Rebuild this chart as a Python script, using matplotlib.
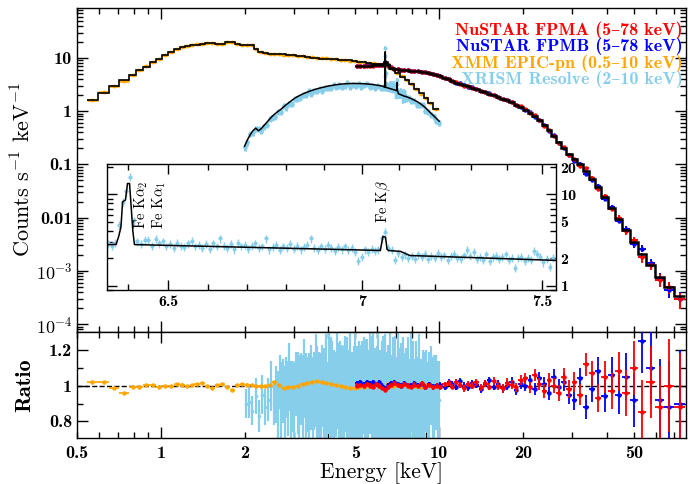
import numpy as np
import matplotlib
matplotlib.use("Agg")
import matplotlib.pyplot as plt
from matplotlib.ticker import LogLocator, FixedLocator, FuncFormatter, NullFormatter

plt.rcParams['mathtext.fontset'] = 'cm'
plt.rcParams['axes.unicode_minus'] = False
plt.rcParams['axes.linewidth'] = 1.0

BOLD = ['cmb10', 'DejaVu Serif']
REG = ['cmr10', 'DejaVu Serif']

C_A = '#ff0000'
C_B = '#0000ff'
C_XMM = '#ffa500'
C_XRISM = '#87ceeb'

# ---------------- XMM EPIC-pn (bin edges, count rate, data/model ratio) ----------------
xmm_edges = [0.542, 0.596, 0.651, 0.709, 0.770, 0.814, 0.860, 0.913, 0.959, 1.014,
             1.065, 1.116, 1.17, 1.22, 1.27, 1.32, 1.38, 1.44, 1.50, 1.56,
             1.63, 1.70, 1.77, 1.84, 1.92, 2.00, 2.08, 2.16, 2.24, 2.33,
             2.42, 2.51, 2.61, 2.71, 2.82, 2.93, 3.05, 3.17, 3.30, 3.43,
             3.57, 3.71, 3.86, 4.01, 4.17, 4.34, 4.51, 4.69, 4.88, 5.07,
             5.27, 5.48, 5.70, 5.93, 6.17, 6.42, 6.67, 6.94, 7.22, 7.51,
             7.81, 8.12, 8.45, 8.79, 9.14, 9.51, 10.0]
xmm_rate = [1.65, 2.25, 2.93, 3.74, 4.85, 5.85, 6.95, 8.27, 9.58, 11.5,
            12.7, 14.8, 16.0, 16.8, 17.5, 18.0, 18.6, 19.1, 19.0, 18.6,
            18.7, 19.6, 19.8, 18.6, 17.8, 17.6, 17.8, 15.0, 12.8, 12.2,
            12.0, 11.9, 11.8, 11.6, 11.4, 11.2, 11.0, 10.8, 10.6, 10.4,
            10.2, 10.0, 9.8, 9.6, 9.45, 9.3, 9.1, 8.9, 8.7, 8.5,
            8.3, 8.1, 7.9, 7.7, 7.6, 7.6, 6.3, 5.3, 4.5, 3.8,
            3.2, 2.65, 2.15, 1.75, 1.42, 1.12]
xmm_ratio = [1.02, 1.02, 0.985, 0.957, 0.995, 0.99, 1.005, 1.004, 0.995, 0.998,
             1.0, 1.007, 1.006, 0.998, 1.002, 1.009, 1.013, 0.999, 0.985, 1.003,
             1.008, 0.994, 0.978, 1.002, 1.01, 1.006, 1.003, 1.0, 0.996, 0.998,
             1.004, 1.02, 1.002, 0.986, 0.99, 0.994, 1.0, 1.008, 1.015, 1.02,
             1.024, 1.022, 1.015, 1.01, 1.002, 0.996, 0.99, 0.988, 0.985, 0.99,
             0.995, 1.0, 1.003, 0.998, 0.995, 1.01, 0.997, 1.002, 1.005, 0.996,
             1.006, 1.0, 0.995, 1.003, 1.0, 0.997]
xmm_frac_err = 0.006

# ---------------- NuSTAR FPMA / FPMB ----------------
nu_energy = [5.05, 5.2, 5.35, 5.5, 5.65, 5.8, 5.95, 6.1, 6.25, 6.4,
             6.55, 6.7, 6.9, 7.1, 7.3, 7.5, 7.7, 7.9, 8.15, 8.4,
             8.65, 8.9, 9.2, 9.5, 9.8, 10.1, 10.45, 10.8, 11.15, 11.5,
             11.9, 12.3, 12.7, 13.1, 13.6, 14.1, 14.6, 15.1, 15.7, 16.3,
             16.9, 17.5, 18.2, 18.9, 19.6, 20.4, 21.2, 22.0, 22.9, 23.8,
             24.8, 25.8, 26.9, 28.0, 29.3, 30.6, 32.0, 33.6, 35.3, 37.2,
             39.3, 41.6, 44.1, 46.9, 50.0, 53.5, 57.5, 62.0, 67.0, 73.0]
nu_model = [7.0, 7.05, 7.1, 7.15, 7.2, 7.25, 7.3, 7.35, 7.5, 8.4,
            7.3, 6.6, 6.2, 6.1, 6.0, 5.95, 5.9, 5.8, 5.7, 5.6,
            5.5, 5.4, 5.25, 5.05, 4.8, 4.55, 4.25, 3.95, 3.7, 3.45,
            3.25, 3.08, 2.92, 2.78, 2.6, 2.45, 2.3, 2.15, 2.0, 1.85,
            1.72, 1.6, 1.46, 1.33, 1.2, 1.07, 0.94, 0.8, 0.67, 0.55,
            0.44, 0.34, 0.26, 0.2, 0.155, 0.125, 0.1, 0.075, 0.053, 0.037,
            0.024, 0.015, 0.0093, 0.0058, 0.0035, 0.0021, 0.00128, 0.00078, 0.0005, 0.00033]
nu_frac_err = [0.012, 0.012, 0.012, 0.012, 0.012, 0.012, 0.012, 0.012, 0.012, 0.012,
               0.012, 0.012, 0.012, 0.012, 0.012, 0.012, 0.012, 0.012, 0.012, 0.012,
               0.012, 0.012, 0.012, 0.012, 0.012, 0.015, 0.015, 0.016, 0.016, 0.017,
               0.017, 0.018, 0.018, 0.019, 0.019, 0.02, 0.02, 0.021, 0.022, 0.023,
               0.024, 0.025, 0.026, 0.027, 0.028, 0.03, 0.031, 0.033, 0.035, 0.037,
               0.04, 0.042, 0.045, 0.048, 0.05, 0.055, 0.06, 0.065, 0.07, 0.08,
               0.09, 0.1, 0.11, 0.13, 0.15, 0.18, 0.2, 0.23, 0.26, 0.3]
fpma_ratio = [1.0, 1.005, 0.998, 1.01, 1.0, 0.995, 1.008, 1.0, 0.985, 0.975,
              0.99, 1.005, 1.012, 1.004, 0.996, 1.01, 1.0, 0.993, 1.006, 0.998,
              1.012, 0.995, 1.003, 0.99, 1.0, 0.99, 1.008, 1.015, 0.995, 1.02,
              1.005, 0.985, 1.01, 1.0, 1.018, 0.99, 1.012, 0.995, 1.025, 1.0,
              0.985, 1.015, 1.005, 0.99, 1.03, 1.04, 0.99, 1.06, 1.01, 0.97,
              1.03, 1.0, 0.96, 1.05, 0.98, 1.02, 0.95, 1.12, 1.07, 0.93,
              1.05, 0.97, 1.08, 0.96, 1.1, 0.85, 1.02, 0.88, 1.0, 0.88]
fpmb_ratio = [1.015, 1.02, 1.01, 1.022, 1.012, 1.018, 1.008, 1.02, 1.0, 0.985,
              1.005, 1.015, 1.02, 1.01, 1.0, 1.012, 1.005, 1.0, 1.015, 1.002,
              1.01, 0.995, 1.008, 0.997, 1.005, 1.005, 0.99, 1.02, 1.01, 0.995,
              1.025, 1.0, 0.99, 1.015, 1.005, 0.98, 1.01, 1.03, 0.995, 1.01,
              0.985, 1.0, 1.02, 0.975, 1.01, 1.0, 1.03, 0.98, 1.04, 1.01,
              0.96, 1.05, 0.99, 1.02, 0.95, 0.92, 1.04, 0.88, 0.98, 1.08,
              0.94, 1.06, 0.95, 1.05, 0.92, 1.25, 1.1, 0.92, 0.88, 0.9]

# ---------------- XRISM Resolve, broadband (display binning) ----------------
xrism_model = [0.22, 0.29, 0.36, 0.43, 0.48, 0.43, 0.47, 0.54, 0.62, 0.71,
               0.81, 0.90, 0.99, 1.08, 1.20, 1.33, 1.46, 1.60, 1.75, 1.88,
               2.00, 2.12, 2.23, 2.33, 2.44, 2.54, 2.63, 2.72, 2.80, 2.88,
               2.96, 3.03, 3.09, 3.15, 3.20, 3.24, 3.27, 3.29, 3.31, 3.32,
               3.32, 3.31, 3.30, 3.28, 3.25, 3.22, 3.18, 3.12, 3.06, 3.00,
               2.93, 2.84, 2.74, 2.65, 2.55, 2.42, 2.12, 2.00, 1.90, 1.80,
               1.72, 1.62, 1.52, 1.41, 1.29, 1.17, 1.04, 0.92, 0.82, 0.73, 0.65]
xrism_rate = [0.21, 0.26, 0.38, 0.40, 0.47, 0.46, 0.42, 0.52, 0.55, 0.72,
              0.75, 0.78, 0.97, 0.98, 1.25, 1.18, 1.39, 1.38, 1.73, 1.73,
              1.76, 2.04, 2.01, 2.40, 2.12, 2.39, 2.39, 2.67, 2.38, 2.74,
              2.72, 2.70, 3.15, 2.84, 3.07, 2.82, 3.04, 3.45, 2.91, 3.12,
              2.99, 3.21, 2.84, 3.12, 3.28, 2.87, 2.96, 2.71, 3.00, 2.73,
              2.78, 2.50, 2.82, 2.39, 2.40, 2.08, 2.06, 1.84, 1.69, 1.80,
              1.55, 1.54, 1.32, 1.31, 1.32, 1.03, 0.98, 0.84, 0.80, 0.65, 0.60]
xrism_frac_err = 0.13

# ---------------- XRISM Resolve, Fe K band (inset) ----------------
fek_model_energy = [6.350, 6.372, 6.378, 6.384, 6.388, 6.395, 6.400, 6.405, 6.409, 6.413,
                    6.417, 7.050, 7.054, 7.057, 7.064, 7.068, 7.072, 7.105, 7.130, 7.540]
fek_model_rate = [2.81, 2.83, 3.4, 4.4, 8.3, 8.7, 13.2, 13.2, 7.3, 4.0,
                  2.82, 2.43, 3.0, 3.47, 3.4, 2.5, 2.43, 2.37, 2.14, 1.89]
fek_start, fek_step = 6.352, 0.009
fek_rate = [2.9, 2.75, 2.95, 4.6, 8.3, 10.8, 15.5, 5.2, 3.05, 2.85,
            3.15, 3.2, 2.75, 3.25, 2.9, 3.05, 2.7, 2.85, 2.6, 2.95,
            2.75, 2.65, 2.9, 3.1, 2.7, 2.8, 2.6, 2.85, 2.55, 2.9,
            2.7, 3.3, 2.75, 2.6, 2.85, 2.5, 2.95, 2.7, 2.8, 2.55,
            2.75, 2.9, 2.6, 2.7, 3.3, 2.5, 2.65, 2.8, 2.45, 2.7,
            2.6, 2.85, 2.55, 2.75, 2.5, 2.65, 2.8, 3.3, 2.6, 2.45,
            2.7, 2.55, 2.8, 2.6, 2.4, 2.65, 2.5, 2.7, 2.45, 2.6,
            2.35, 1.85, 2.05, 2.5, 2.35, 2.55, 2.4, 2.5, 3.3, 3.9,
            2.6, 2.45, 1.9, 2.3, 2.05, 2.2, 2.0, 2.1, 1.95, 2.2,
            2.05, 2.25, 1.95, 2.1, 2.0, 2.3, 2.05, 2.15, 1.9, 2.1,
            2.25, 2.0, 1.95, 2.15, 2.45, 2.1, 2.35, 1.95, 2.05, 1.9,
            2.2, 1.85, 2.05, 2.1, 1.95, 2.05, 2.2, 1.9, 2.0, 1.55,
            2.0, 2.05, 1.85, 2.0, 1.9, 2.4, 2.25, 2.05, 1.8, 1.95,
            1.6, 2.0]
fek_frac_err = 0.1

# ---------------- XRISM Resolve ratio (full resolution) ----------------
xrism_ratio_energy_low = [2.02, 2.08, 2.13, 2.19, 2.25, 2.31, 2.37, 2.43, 2.49, 2.55]
xrism_ratio_low = [0.90, 0.91, 0.86, 0.94, 0.83, 0.95, 0.88, 0.92, 1.0, 0.9]
xrism_ratio_err_low = [0.08, 0.09, 0.08, 0.1, 0.09, 0.11, 0.1, 0.12, 0.14, 0.12]
xrism_ratio = [0.95, 0.88, 1.02, 0.91, 0.97, 0.86, 0.99, 0.93, 1.05, 0.9,
               0.94, 0.87, 1.01, 0.96, 0.89, 0.98, 0.92, 1.04, 0.88, 0.95,
               0.91, 0.99, 0.86, 0.97, 1.03, 0.9, 0.94, 0.88, 1.0, 0.93,
               0.96, 0.87, 1.02, 0.92, 0.98, 0.89, 0.95, 1.06, 0.9, 0.97,
               0.93, 0.86, 1.01, 0.95, 0.91, 0.99, 0.88, 0.96, 1.03, 0.92,
               0.97, 0.89, 0.94, 1.0, 0.9, 0.96, 0.87, 1.02, 0.93, 0.98,
               0.91, 0.95, 1.04, 0.89, 0.97, 0.92, 0.99, 0.86, 0.94, 1.01,
               0.9, 0.96, 0.93, 0.88, 1.0, 0.95, 0.91, 0.98, 0.87, 0.94,
               0.97, 0.9, 1.02, 0.93, 0.89, 0.96, 0.92, 0.99, 0.88, 0.95,
               0.91, 0.97, 0.86, 0.94, 1.0, 0.9, 0.93, 0.96, 0.89, 0.92]
xrism_ratio_err = [0.16, 0.2, 0.15, 0.22, 0.18, 0.25, 0.17, 0.21, 0.19, 0.24,
                   0.2, 0.26, 0.18, 0.23, 0.28, 0.2, 0.25, 0.22, 0.3, 0.21,
                   0.27, 0.24, 0.3, 0.22, 0.26, 0.32, 0.25, 0.3, 0.23, 0.28,
                   0.33, 0.26, 0.29, 0.35, 0.27, 0.31, 0.24, 0.3, 0.34, 0.28,
                   0.3, 0.36, 0.27, 0.32, 0.29, 0.35, 0.31, 0.26, 0.33, 0.3,
                   0.28, 0.34, 0.31, 0.27, 0.36, 0.3, 0.33, 0.29, 0.35, 0.32,
                   0.3, 0.27, 0.34, 0.31, 0.28, 0.36, 0.3, 0.33, 0.29, 0.32,
                   0.27, 0.31, 0.35, 0.28, 0.3, 0.26, 0.33, 0.29, 0.31, 0.27,
                   0.3, 0.25, 0.28, 0.32, 0.26, 0.29, 0.24, 0.3, 0.27, 0.25,
                   0.28, 0.23, 0.27, 0.25, 0.22, 0.26, 0.24, 0.21, 0.25, 0.22]

legend_labels = ['NuSTAR FPMA (5–78 keV)', 'NuSTAR FPMB (5–78 keV)',
                 'XMM EPIC-pn (0.5–10 keV)', 'XRISM Resolve (2–10 keV)']
legend_colors = [C_A, C_B, C_XMM, C_XRISM]

# ---------------- derived arrays ----------------
xmm_edges = np.array(xmm_edges)
xmm_lo, xmm_hi = xmm_edges[:-1], xmm_edges[1:]
xmm_c = np.sqrt(xmm_lo * xmm_hi)
xmm_rate = np.array(xmm_rate)
xmm_ratio = np.array(xmm_ratio)
xmm_model = xmm_rate / xmm_ratio
xmm_xerr = [xmm_c - xmm_lo, xmm_hi - xmm_c]

nu_e = np.array(nu_energy)
nu_mid = np.sqrt(nu_e[:-1] * nu_e[1:])
nu_edges = np.concatenate([[nu_e[0] ** 2 / nu_mid[0]], nu_mid, [nu_e[-1] ** 2 / nu_mid[-1]]])
nu_xerr = [nu_e - nu_edges[:-1], nu_edges[1:] - nu_e]
nu_model = np.array(nu_model)
nu_frac_err = np.array(nu_frac_err)

xr_e = np.geomspace(2.0, 10.0, len(xrism_model))
xr_model = np.array(xrism_model)
xr_rate = np.array(xrism_rate)
fek_e = fek_start + fek_step * np.arange(len(fek_rate))
fek_rate = np.array(fek_rate)
fek_lo, fek_hi = fek_model_energy[0], fek_model_energy[-1]
outside = (xr_e < fek_lo) | (xr_e > fek_hi)
xr_line_e = np.concatenate([xr_e[xr_e < fek_lo], fek_model_energy, xr_e[xr_e > fek_hi]])
xr_line_v = np.concatenate([xr_model[xr_e < fek_lo], fek_model_rate, xr_model[xr_e > fek_hi]])

rr_e = np.concatenate([xrism_ratio_energy_low, np.geomspace(2.6, 10.0, len(xrism_ratio))])
rr_v = np.concatenate([xrism_ratio_low, xrism_ratio])
rr_err = np.concatenate([xrism_ratio_err_low, xrism_ratio_err])

# ---------------- figure ----------------
fig = plt.figure(figsize=(6.97, 4.84), dpi=100)
W, H = 697.0, 484.0
ax = fig.add_axes([77 / W, 1 - 332 / H, 609 / W, 324 / H])
axr = fig.add_axes([77 / W, 1 - 438 / H, 609 / W, 106 / H], sharex=ax)
axin = fig.add_axes([107 / W, 1 - 290 / H, 449 / W, 126 / H])
axin.set_zorder(5)

ax.set_xscale('log')
ax.set_yscale('log')
ax.set_xlim(0.5, 77)
ax.set_ylim(7.1e-5, 87)

# XMM spectrum and folded model
ax.errorbar(xmm_c, xmm_rate, xerr=xmm_xerr, yerr=xmm_rate * xmm_frac_err,
            fmt='o', ms=1.8, color=C_XMM, elinewidth=1.8, capsize=0, zorder=3)
ax.stairs(xmm_model, xmm_edges, color='k', lw=1.2, zorder=4, baseline=None)

# NuSTAR spectra and folded model
for ratio, col in ((fpmb_ratio, C_B), (fpma_ratio, C_A)):
    r = nu_model * np.array(ratio)
    ax.errorbar(nu_e, r, xerr=nu_xerr, yerr=nu_model * nu_frac_err, fmt='o', ms=2.2,
                color=col, elinewidth=1.4, capsize=0, zorder=3)
ax.stairs(nu_model, nu_edges, color='k', lw=1.8, zorder=4, baseline=None)

# XRISM spectrum and folded model
ax.errorbar(xr_e[outside], xr_rate[outside], yerr=xr_rate[outside] * xrism_frac_err,
            fmt='o', ms=2.4, color=C_XRISM, elinewidth=2.2, capsize=0, zorder=2)
ax.errorbar(fek_e, fek_rate, yerr=fek_rate * fek_frac_err, fmt='o', ms=1.8,
            color=C_XRISM, elinewidth=1.2, capsize=0, zorder=2)
ax.plot(xr_line_e, xr_line_v, color='k', lw=1.1, zorder=4)

# coloured legend text
for i, (lab, col) in enumerate(zip(legend_labels, legend_colors)):
    ax.text(0.995, 0.932 - i * 0.051, lab, transform=ax.transAxes, ha='right', va='center',
            color=col, fontsize=13, family=BOLD)

# main panel ticks
def main_fmt(v, pos):
    names = {10.0: '10', 1.0: '1', 0.1: '0.1', 0.01: '0.01',
             1e-3: r'$\mathbf{10^{-3}}$', 1e-4: r'$\mathbf{10^{-4}}$'}
    for k, s in names.items():
        if abs(v - k) < 1e-3 * k:
            return s
    return ''

ax.yaxis.set_major_locator(LogLocator(base=10, numticks=20))
ax.yaxis.set_minor_locator(LogLocator(base=10, subs=np.arange(2, 10), numticks=20))
ax.yaxis.set_major_formatter(FuncFormatter(main_fmt))
ax.yaxis.set_minor_formatter(NullFormatter())
ax.set_ylabel('Counts s$^{-1}$ keV$^{-1}$', family=REG, fontsize=16)
ax.yaxis.set_label_coords(-0.070, 0.5)

for a in (ax, axr):
    a.tick_params(which='both', direction='in', top=True, right=True, width=1.0, labelsize=13)
    a.tick_params(which='major', length=8)
    a.tick_params(which='minor', length=4)
ax.tick_params(which='both', labelbottom=False)

# ratio panel
axr.set_ylim(0.707, 1.30)
axr.axhline(1.0, color='k', ls='--', lw=1.0, zorder=1)
axr.errorbar(rr_e, rr_v, yerr=rr_err, fmt='o', ms=1.6, color=C_XRISM,
             elinewidth=1.6, capsize=0, zorder=2)
axr.errorbar(xmm_c, xmm_ratio, xerr=xmm_xerr, yerr=xmm_ratio * xmm_frac_err,
             fmt='o', ms=2.2, color=C_XMM, elinewidth=1.2, capsize=0, zorder=3)
for ratio, col, z in ((fpmb_ratio, C_B, 4), (fpma_ratio, C_A, 5)):
    axr.errorbar(nu_e, ratio, xerr=nu_xerr, yerr=nu_frac_err, fmt='o', ms=2.2,
                 color=col, elinewidth=1.3, capsize=0, zorder=z)

axr.yaxis.set_major_locator(FixedLocator([0.8, 1.0, 1.2]))
axr.yaxis.set_minor_locator(FixedLocator([0.9, 1.1]))
axr.yaxis.set_major_formatter(FuncFormatter(lambda v, p: {0.8: '0.8', 1.0: '1', 1.2: '1.2'}.get(round(v, 1), '')))

def x_major(v, pos):
    return {1.0: '1', 10.0: '10'}.get(round(v, 3), '')

def x_minor(v, pos):
    return {0.5: '0.5', 2.0: '2', 5.0: '5', 20.0: '20', 50.0: '50'}.get(round(v, 3), '')

axr.xaxis.set_major_locator(LogLocator(base=10, numticks=10))
axr.xaxis.set_minor_locator(LogLocator(base=10, subs=np.arange(2, 10), numticks=10))
axr.xaxis.set_major_formatter(FuncFormatter(x_major))
axr.xaxis.set_minor_formatter(FuncFormatter(x_minor))
axr.tick_params(axis='x', which='both', labelsize=13, pad=6)
axr.set_xlabel('Energy [keV]', family=REG, fontsize=15.5, labelpad=1)
axr.set_ylabel('Ratio', family=BOLD, fontsize=16)
axr.yaxis.set_label_coords(-0.070, 0.5)

# ---------------- inset: Fe K band ----------------
axin.set_xscale('log')
axin.set_yscale('log')
axin.set_xlim(6.35, 7.54)
axin.set_ylim(0.895, 21.6)
axin.errorbar(fek_e, fek_rate, xerr=fek_step / 2, yerr=fek_rate * fek_frac_err, fmt='o', ms=1.8,
              color=C_XRISM, elinewidth=1.0, capsize=0, zorder=2)
axin.plot(fek_model_energy, fek_model_rate, color='k', lw=1.1, zorder=3)

axin.xaxis.set_major_locator(FixedLocator([6.5, 7.0, 7.5]))
axin.xaxis.set_minor_locator(FixedLocator([6.4, 6.6, 6.7, 6.8, 6.9, 7.1, 7.2, 7.3, 7.4]))
axin.xaxis.set_major_formatter(FuncFormatter(lambda v, p: {6.5: '6.5', 7.0: '7', 7.5: '7.5'}.get(round(v, 2), '')))
axin.xaxis.set_minor_formatter(NullFormatter())
axin.yaxis.set_major_locator(LogLocator(base=10, numticks=10))
axin.yaxis.set_minor_locator(LogLocator(base=10, subs=np.arange(2, 10), numticks=10))
axin.yaxis.set_major_formatter(FuncFormatter(lambda v, p: {1.0: '1', 10.0: '10'}.get(round(v, 3), '')))
axin.yaxis.set_minor_formatter(FuncFormatter(lambda v, p: {2.0: '2', 5.0: '5', 20.0: '20'}.get(round(v, 3), '')))
axin.tick_params(which='both', direction='in', top=True, right=True, left=True,
                 labelleft=False, labelright=True, labelsize=11.5, width=1.0)
axin.tick_params(which='major', length=7)
axin.tick_params(which='minor', length=4)

for a in (ax, axr, axin):
    for t in a.get_xticklabels(which='both') + a.get_yticklabels(which='both'):
        t.set_family(BOLD)

axin.text(6.433, 14.0, r'Fe K$\alpha_2$', rotation=90, ha='center', va='top', fontsize=10.5, family=REG)
axin.text(6.479, 14.0, r'Fe K$\alpha_1$', rotation=90, ha='center', va='top', fontsize=10.5, family=REG)
axin.text(7.058, 14.5, r'Fe K$\beta$', rotation=90, ha='center', va='top', fontsize=10.5, family=REG)

fig.savefig('out.png', dpi=100)
